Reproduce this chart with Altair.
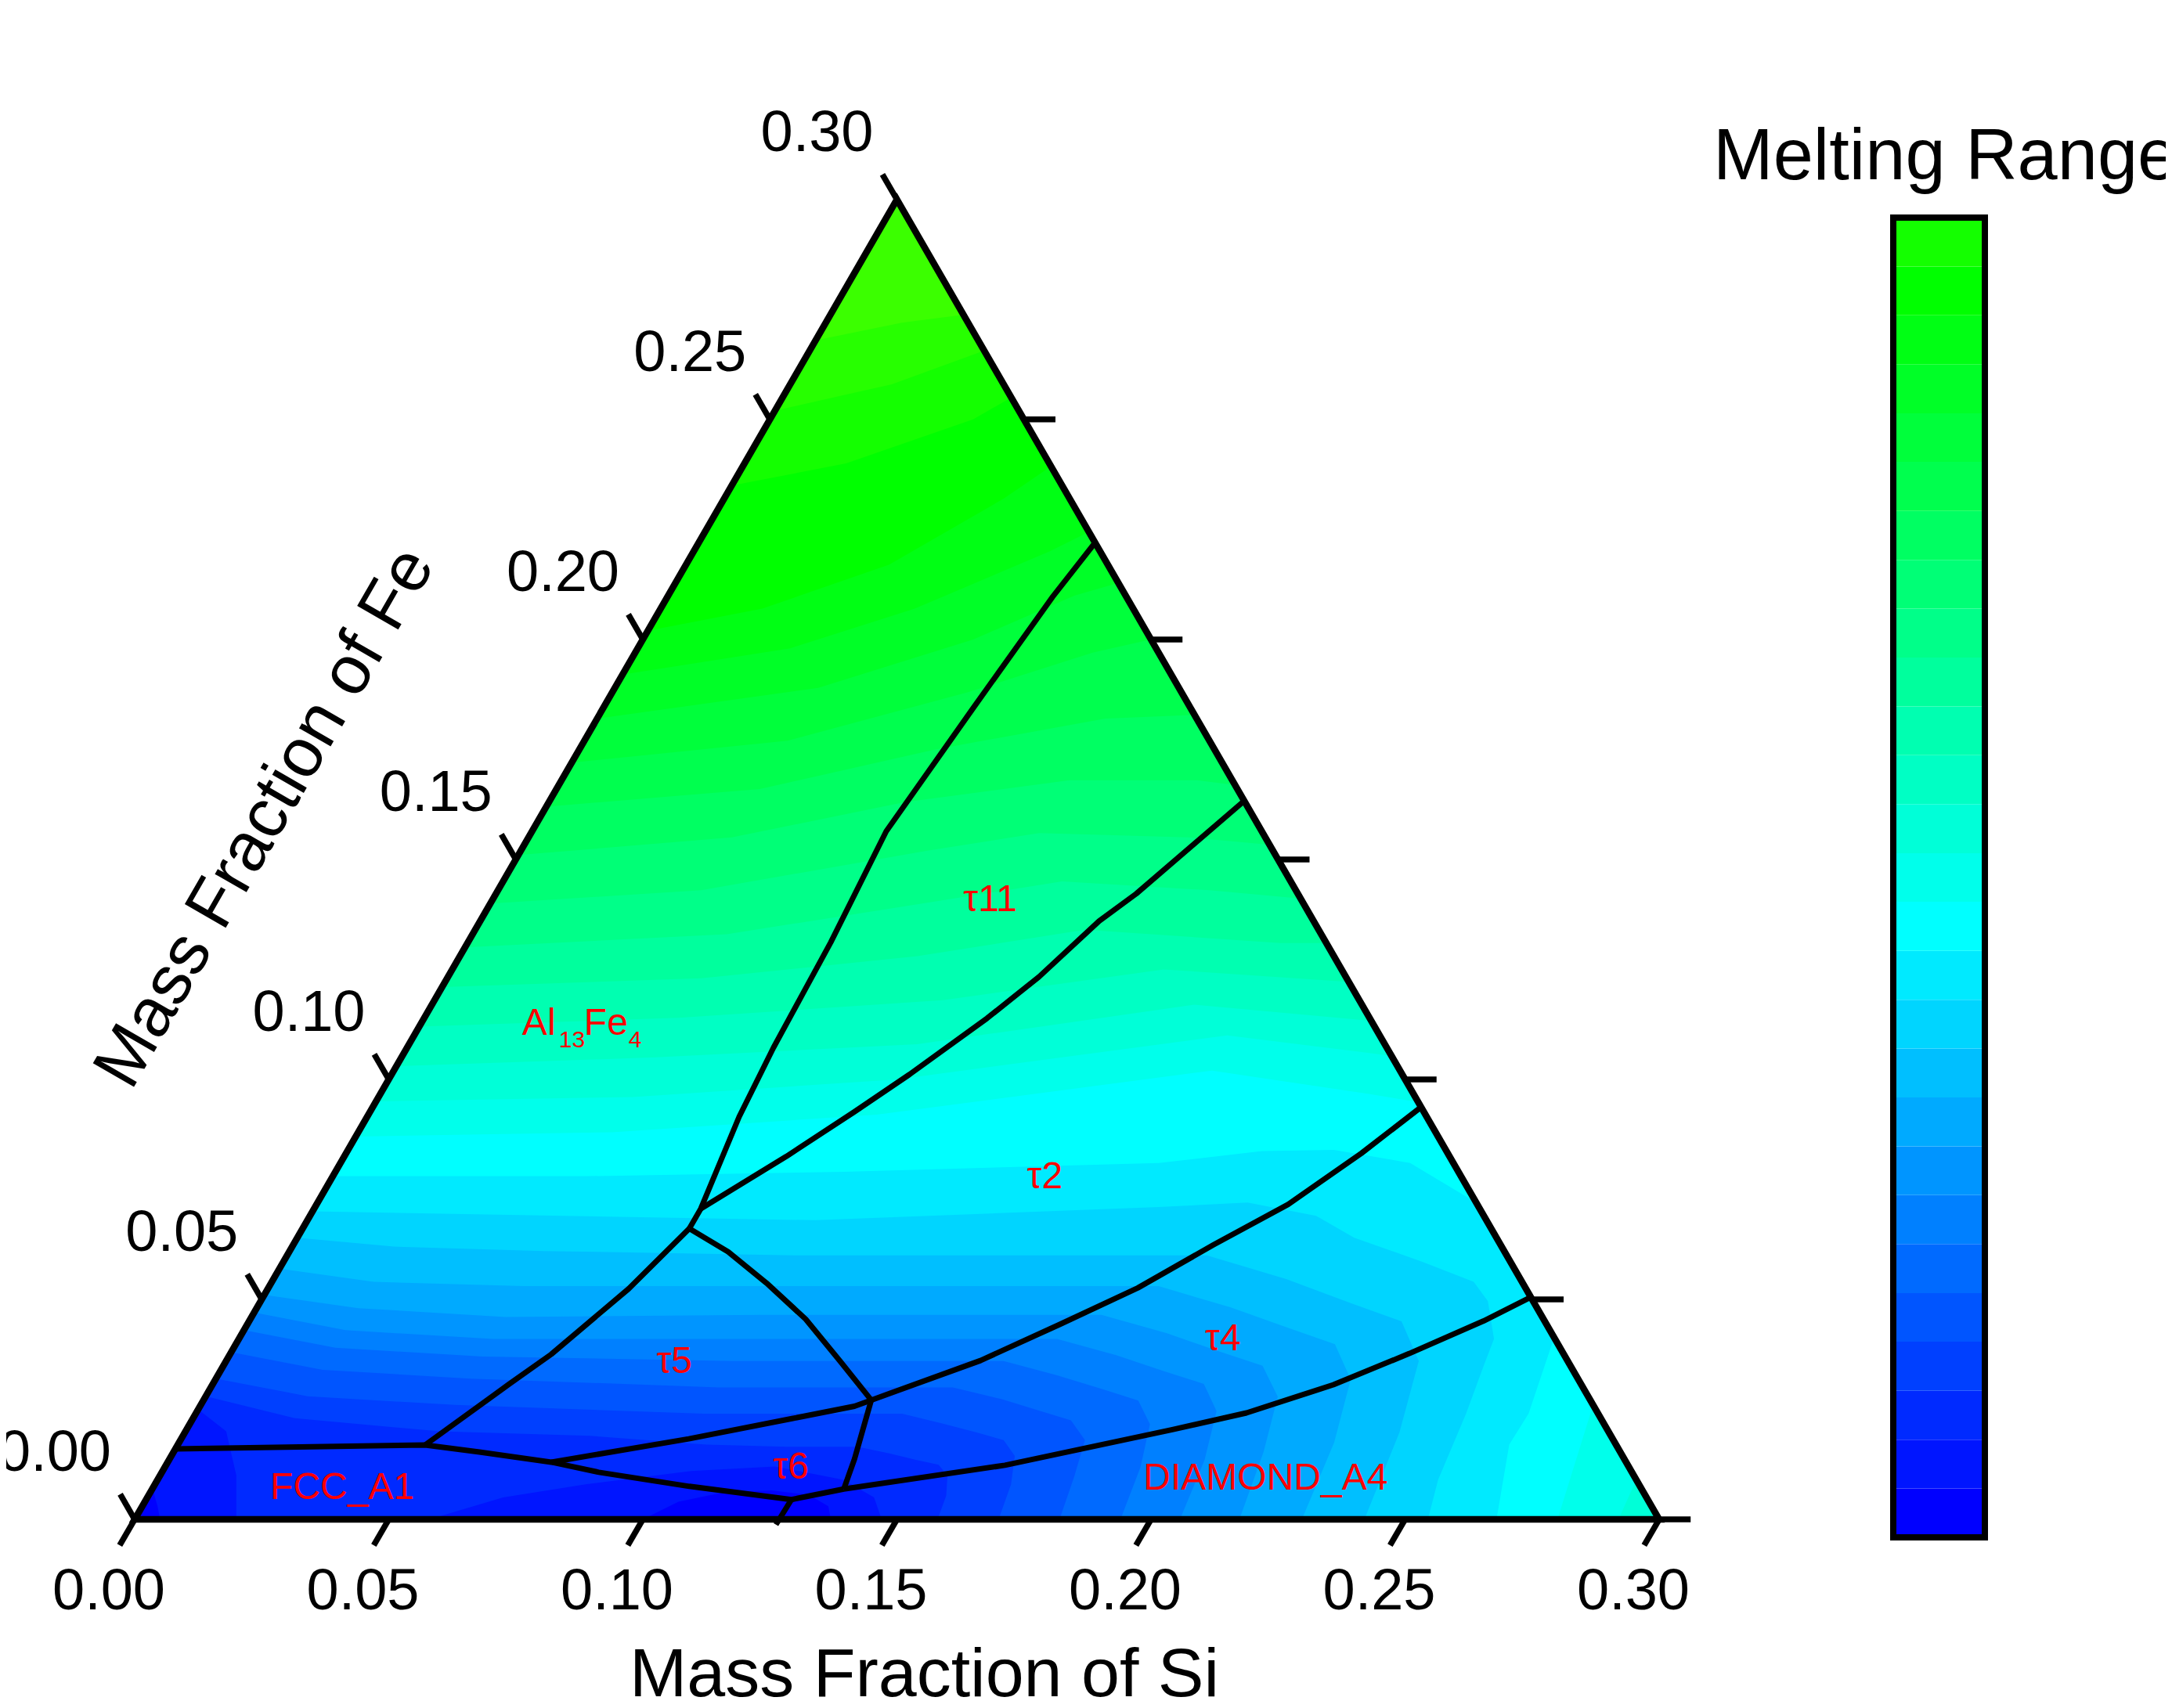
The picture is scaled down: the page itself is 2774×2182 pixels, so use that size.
import altair as alt
import pandas as pd

alt.data_transformers.disable_max_rows()

FONT = "Liberation Sans"

# pixel layout of the ternary triangle (Al corner, mass fractions)
PX = 6490.0            # pixels per unit of mass fraction
ORIGIN_X, ORIGIN_Y = 164.0, 1933.0
W, H = 2758, 2166
X_DOMAIN = [-ORIGIN_X / PX, (W - ORIGIN_X) / PX]
Y_DOMAIN = [(ORIGIN_Y - H) / PX, ORIGIN_Y / PX]

# contour levels of the melting range, one colour band each
LEVELS = [0.0, 16.7, 33.3, 50.0, 66.7, 83.3, 100.0, 116.7, 133.3, 150.0,
          166.7, 183.3, 200.0, 216.7, 233.3, 250.0, 266.7, 283.3, 300.0,
          316.7, 333.3, 350.0, 366.7, 383.3, 400.0, 416.7, 433.3, 450.0, 466.7]
COLOR_STOPS = [0, 200, 416.7, 633.3]
COLOR_RANGE = ["#0000ff", "#00ffff", "#00ff00", "#ffff00"]

# contour lines (Si, Fe); region above/right is >= level
C1 = [(-0.02, 0.008), (0.0, 0.007), (0.003, 0.003), (0.005, 0.0), (0.005, -0.01), (0.10, -0.01),
      (0.10, 0.0), (0.105, 0.004), (0.113, 0.0062), (0.122, 0.0066), (0.13, 0.0055), (0.135, 0.003),
      (0.137, 0.0), (0.137, -0.01)]
C2 = [(-0.02, 0.026), (0.0, 0.025), (0.008, 0.02), (0.015, 0.01), (0.02, 0.0), (0.02, -0.01),
      (0.058, -0.01), (0.058, 0.0), (0.07, 0.005), (0.085, 0.008), (0.104, 0.011), (0.12, 0.012),
      (0.135, 0.009), (0.143, 0.005), (0.147, 0.0), (0.147, -0.01)]
C3 = [(-0.02, 0.028), (0.0, 0.028), (0.02, 0.023), (0.05, 0.020), (0.08, 0.019), (0.104, 0.017),
      (0.12, 0.0165), (0.134, 0.0165), (0.141, 0.015), (0.147, 0.0135), (0.152, 0.0124),
      (0.155, 0.0099), (0.157, 0.0054), (0.158, 0.0), (0.158, -0.01)]
C4 = [(-0.02, 0.032), (0.0, 0.032), (0.02, 0.028), (0.05, 0.026), (0.10, 0.024), (0.139, 0.024),
      (0.148, 0.0218), (0.156, 0.0197), (0.162, 0.018), (0.166, 0.0144), (0.1685, 0.0079),
      (0.170, 0.0), (0.170, -0.01)]
C5 = [(-0.02, 0.038), (0.0, 0.038), (0.02, 0.034), (0.05, 0.032), (0.10, 0.030), (0.146, 0.030),
      (0.157, 0.0273), (0.166, 0.0246), (0.173, 0.0225), (0.178, 0.018), (0.180, 0.0099),
      (0.182, 0.0), (0.182, -0.01)]
C6 = [(-0.02, 0.043), (0.0, 0.043), (0.02, 0.039), (0.05, 0.037), (0.10, 0.036), (0.153, 0.036),
      (0.165, 0.0328), (0.176, 0.0295), (0.184, 0.027), (0.189, 0.0216), (0.192, 0.0119),
      (0.194, 0.0), (0.194, -0.01)]
C7 = [(-0.02, 0.047), (0.0, 0.047), (0.02, 0.043), (0.05, 0.041), (0.10, 0.041), (0.161, 0.041),
      (0.1745, 0.0373), (0.186, 0.0336), (0.195, 0.0308), (0.2006, 0.0246), (0.2038, 0.0135),
      (0.2057, 0.0), (0.2057, -0.01)]
C8 = [(-0.02, 0.051), (0.0, 0.051), (0.02, 0.048), (0.05, 0.046), (0.10, 0.0465), (0.167, 0.0465),
      (0.182, 0.0423), (0.1945, 0.0381), (0.2045, 0.0349), (0.211, 0.0279), (0.2145, 0.0153),
      (0.2174, 0.0), (0.2174, -0.01)]
C9 = [(-0.02, 0.057), (0.0, 0.057), (0.02, 0.054), (0.05, 0.053), (0.10, 0.053), (0.175, 0.053),
      (0.1915, 0.0482), (0.2053, 0.0435), (0.2163, 0.0398), (0.2234, 0.0318), (0.2273, 0.0175),
      (0.2297, 0.0), (0.2297, -0.01)]
C10 = [(-0.02, 0.064), (0.0, 0.064), (0.02, 0.062), (0.05, 0.061), (0.10, 0.060), (0.181, 0.060),
       (0.1993, 0.0546), (0.2146, 0.0492), (0.2268, 0.045), (0.2347, 0.036), (0.239, 0.0198),
       (0.242, 0.0), (0.242, -0.01)]
C11 = [(-0.02, 0.070), (0.0, 0.070), (0.05, 0.069), (0.10, 0.068), (0.166, 0.071), (0.183, 0.072),
       (0.198, 0.069), (0.208, 0.064), (0.224, 0.0586), (0.2365, 0.054), (0.2415, 0.0496),
       (0.247, 0.041), (0.248, 0.035), (0.25, 0.024), (0.252, 0.009), (0.2545, 0.0), (0.2545, -0.01)]
C12 = [(-0.02, 0.078), (0.0, 0.078), (0.05, 0.078), (0.10, 0.079), (0.161, 0.081), (0.18, 0.0837),
       (0.194, 0.084), (0.2105, 0.081), (0.228, 0.072), (0.25, 0.072)]
C13 = [(-0.02, 0.087), (0.0, 0.087), (0.05, 0.088), (0.10, 0.092), (0.161, 0.102), (0.1945, 0.0967),
       (0.21, 0.094), (0.23, 0.094)]
C14 = [(-0.02, 0.095), (0.0, 0.095), (0.05, 0.096), (0.10, 0.100), (0.16, 0.110), (0.19, 0.106),
       (0.21, 0.103), (0.23, 0.103)]
C15 = [(-0.02, 0.103), (0.0, 0.103), (0.05, 0.105), (0.10, 0.108), (0.15, 0.117), (0.19, 0.113),
       (0.21, 0.113)]
C16 = [(-0.02, 0.112), (0.0, 0.112), (0.05, 0.114), (0.10, 0.118), (0.14, 0.125), (0.18, 0.122),
       (0.20, 0.122)]
C17 = [(-0.02, 0.121), (0.0, 0.121), (0.05, 0.123), (0.09, 0.128), (0.12, 0.134), (0.16, 0.131),
       (0.19, 0.131)]
C18 = [(-0.02, 0.130), (0.0, 0.130), (0.05, 0.133), (0.085, 0.140), (0.11, 0.145), (0.14, 0.143),
       (0.16, 0.141), (0.18, 0.141)]
C19 = [(-0.02, 0.140), (0.0, 0.140), (0.04, 0.143), (0.08, 0.152), (0.10, 0.156), (0.13, 0.155),
       (0.15, 0.153), (0.17, 0.153)]
C20 = [(-0.02, 0.151), (0.0, 0.151), (0.04, 0.155), (0.07, 0.163), (0.10, 0.168), (0.125, 0.168),
       (0.14, 0.166), (0.16, 0.166)]
C21 = [(-0.02, 0.162), (0.0, 0.162), (0.04, 0.166), (0.07, 0.175), (0.10, 0.182), (0.12, 0.183),
       (0.14, 0.183)]
C22 = [(-0.02, 0.172), (0.0, 0.172), (0.04, 0.177), (0.07, 0.188), (0.09, 0.197), (0.11, 0.203),
       (0.13, 0.203)]
C23 = [(-0.02, 0.182), (0.0, 0.182), (0.04, 0.189), (0.065, 0.200), (0.08, 0.210), (0.10, 0.218),
       (0.12, 0.218)]
C24 = [(-0.02, 0.192), (0.0, 0.192), (0.03, 0.198), (0.05, 0.207), (0.07, 0.220), (0.085, 0.232),
       (0.10, 0.232)]
C25 = [(-0.02, 0.202), (0.0, 0.202), (0.02, 0.207), (0.04, 0.217), (0.055, 0.232), (0.065, 0.245),
       (0.08, 0.245)]
C26 = [(-0.02, 0.235), (0.0, 0.235), (0.02, 0.24), (0.04, 0.25), (0.05, 0.26), (0.07, 0.26)]
C27 = [(-0.02, 0.252), (0.0, 0.252), (0.02, 0.258), (0.035, 0.266), (0.05, 0.266)]
C28 = [(-0.02, 0.268), (0.0, 0.268), (0.015, 0.272), (0.04, 0.276)]
CONTOURS = [C1, C2, C3, C4, C5, C6, C7, C8, C9, C10, C11, C12, C13, C14, C15, C16, C17, C18,
            C19, C20, C21, C22, C23, C24, C25, C26, C27, C28]

# separate pockets in the Si-rich corner (levels 200, 216.7, 233.3)
CORNERS = {
    12: [(0.268, -0.01), (0.268, 0.0), (0.262, 0.017), (0.2623, 0.024), (0.2588, 0.0407), (0.29, 0.041)],
    13: [(0.280, -0.01), (0.280, 0.0), (0.277, 0.013), (0.274, 0.026), (0.30, 0.026)],
    14: [(0.292, -0.01), (0.292, 0.0), (0.291, 0.009), (0.31, 0.009)],
}

# closing corners outside the triangle (hidden by the white mask)
FL_B, FR_B, FR_T, FL_T = (-0.05, -0.03), (0.40, -0.03), (0.26, 0.32), (-0.25, 0.32)

# phase boundaries (Si, Fe)
LINE_FCC = [(0.0, 0.016), (0.0487, 0.0169), (0.0602, 0.0153), (0.0755, 0.0130), (0.0860, 0.0107),
            (0.1054, 0.0075), (0.1270, 0.0045), (0.1268, -0.0012)]
LINE_T6_BASE = [(0.1270, 0.0045), (0.1361, 0.0069)]
LINE_DIAMOND = [(0.1361, 0.0069), (0.1651, 0.0123), (0.1940, 0.0204), (0.2067, 0.0242),
                (0.2206, 0.0306), (0.2320, 0.0377), (0.2429, 0.0451), (0.2495, 0.0505)]
LINE_T4_TOP = [(0.0755, 0.0130), (0.0999, 0.0183), (0.1179, 0.0229), (0.1288, 0.0257),
               (0.1314, 0.0271), (0.1484, 0.0361), (0.1600, 0.0444), (0.1711, 0.0526),
               (0.1811, 0.0624), (0.1912, 0.0716), (0.1998, 0.0832), (0.2063, 0.0937)]
LINE_T5_LEFT = [(0.0487, 0.0169), (0.0583, 0.0307), (0.0632, 0.0375), (0.0710, 0.0524), (0.0761, 0.0661)]
LINE_T5_RIGHT = [(0.0761, 0.0661), (0.0864, 0.0608), (0.0975, 0.0537), (0.1093, 0.0455),
                 (0.1208, 0.0360), (0.1314, 0.0271)]
LINE_T6_RIGHT = [(0.1314, 0.0271), (0.1348, 0.0137), (0.1361, 0.0069)]
LINE_T11_LEFT = [(0.0761, 0.0661), (0.0761, 0.0706), (0.0732, 0.0915), (0.0721, 0.1072),
                 (0.0714, 0.1312), (0.0697, 0.1564), (0.0728, 0.1843), (0.0758, 0.2097), (0.0780, 0.2220)]
LINE_T11_RIGHT = [(0.0761, 0.0706), (0.0870, 0.0825), (0.0953, 0.0926), (0.1019, 0.1011),
                  (0.1108, 0.1139), (0.1163, 0.1233), (0.1218, 0.1360), (0.1260, 0.1422), (0.1367, 0.1633)]
LINES = [LINE_FCC, LINE_T6_BASE, LINE_DIAMOND, LINE_T4_TOP, LINE_T5_LEFT, LINE_T5_RIGHT,
         LINE_T6_RIGHT, LINE_T11_LEFT, LINE_T11_RIGHT]

TRIANGLE = [(0.0, 0.0), (0.30, 0.0), (0.0, 0.30), (0.0, 0.0), (0.30, 0.0)]
MASK = [(-0.0232, 0.3464), (-0.2732, 0.3464), (-0.0711, -0.0577), (0.4789, -0.0577), (0.2768, 0.3464),
        (-0.0232, 0.3464), (0.0, 0.30), (0.30, 0.0), (0.0, 0.0), (0.0, 0.30)]

# axes
SI_TICKS = [0.0, 0.05, 0.10, 0.15, 0.20, 0.25, 0.30]
FE_TICKS = [0.0, 0.05, 0.10, 0.15, 0.20, 0.25, 0.30]
RIGHT_TICKS = [0.0, 0.05, 0.10, 0.15, 0.20, 0.25]
TICK_TEXT = ["0.00", "0.05", "0.10", "0.15", "0.20", "0.25", "0.30"]

# phase labels
PHASES = ["τ11", "τ2", "τ4", "τ5", "τ6", "FCC_A1", "DIAMOND_A4"]
PHASE_SI = [0.0980, 0.1402, 0.1937, 0.0883, 0.1233, 0.0373, 0.2179]
PHASE_FE = [0.1407, 0.0778, 0.0409, 0.0358, 0.0117, 0.0071, 0.0093]
AL13FE4_AT = (0.0212, 0.1101)

# colour bar
CB_TICKS = [0, 100, 200, 300, 400]
CB_MAX = 450.0

# ---------------------------------------------------------------- data frames
polys = [(LEVELS[0], [FL_B, FR_B, FR_T, FL_T])]
for k, c in enumerate(CONTOURS, start=1):
    pts = list(c)
    if pts[-1][1] < 0:
        pts.append(FR_B)
    polys.append((LEVELS[k], pts + [FR_T, FL_T]))
    if k in CORNERS:
        polys.append((LEVELS[k], CORNERS[k] + [FR_B]))

poly_df = pd.DataFrame([
    {"poly": p, "level": lev, "ord": i, "si": si, "fe": fe}
    for p, (lev, pts) in enumerate(polys) for i, (si, fe) in enumerate(pts)
])
line_df = pd.DataFrame([
    {"line": n, "ord": i, "si": si, "fe": fe}
    for n, pts in enumerate(LINES) for i, (si, fe) in enumerate(pts)
])
tri_df = pd.DataFrame([{"ord": i, "si": si, "fe": fe} for i, (si, fe) in enumerate(TRIANGLE)])
mask_df = pd.DataFrame([{"ord": i, "si": si, "fe": fe} for i, (si, fe) in enumerate(MASK)])

tick_rows = []
for s in SI_TICKS:
    tick_rows.append({"si": s, "fe": 0.0, "si2": s, "fe2": -0.0059})
for f in FE_TICKS:
    tick_rows.append({"si": 0.0, "fe": f, "si2": -0.0057, "fe2": f + 0.0057})
for f in RIGHT_TICKS:
    tick_rows.append({"si": 0.30 - f, "fe": f, "si2": 0.30 - f + 0.0062, "fe2": f})
tick_df = pd.DataFrame(tick_rows)
bottom_lab = pd.DataFrame({"si": SI_TICKS, "fe": 0.0, "t": TICK_TEXT})
left_lab = pd.DataFrame({"si": 0.0, "fe": FE_TICKS, "t": TICK_TEXT})
phase_df = pd.DataFrame({"t": PHASES, "si": PHASE_SI, "fe": PHASE_FE})

band_df = pd.DataFrame({"lo": LEVELS[:27], "hi": LEVELS[1:28]})

# ---------------------------------------------------------------- encodings
X = alt.X("cx:Q", scale=alt.Scale(domain=X_DOMAIN, nice=False, zero=False), axis=None)
Y = alt.Y("cy:Q", scale=alt.Scale(domain=Y_DOMAIN, nice=False, zero=False), axis=None)
color_scale = alt.Scale(domain=COLOR_STOPS, range=COLOR_RANGE, interpolate="rgb")


def tern(df):
    return alt.Chart(df).transform_calculate(
        cx="datum.si + datum.fe / 2", cy="datum.fe * 0.8660254"
    )


poly_base = tern(poly_df).mark_line(strokeWidth=0).encode(
    x=X, y=Y, order="ord:Q",
    fill=alt.Fill("level:Q", scale=color_scale, legend=None),
)
poly_layers = [poly_base.transform_filter(alt.datum.poly == p) for p in range(len(polys))]

mask = tern(mask_df).mark_line(strokeWidth=0).encode(
    x=X, y=Y, order="ord:Q", fill=alt.value("white")
)

phase_lines = tern(line_df).mark_line(color="black", strokeWidth=7, strokeJoin="round").encode(
    x=X, y=Y, order="ord:Q", detail="line:N"
)
triangle = tern(tri_df).mark_line(color="black", strokeWidth=8.5, strokeJoin="miter").encode(
    x=X, y=Y, order="ord:Q"
)
ticks = (
    alt.Chart(tick_df)
    .transform_calculate(
        cx="datum.si + datum.fe / 2", cy="datum.fe * 0.8660254",
        cx2="datum.si2 + datum.fe2 / 2", cy2="datum.fe2 * 0.8660254",
    )
    .mark_rule(color="black", strokeWidth=7.5)
    .encode(x=X, y=Y, x2="cx2:Q", y2="cy2:Q")
)
bottom_text = tern(bottom_lab).mark_text(
    font=FONT, fontSize=74, color="black", align="center", baseline="middle", dx=-33, dy=93
).encode(x=X, y=Y, text="t:N")
left_text = tern(left_lab).mark_text(
    font=FONT, fontSize=74, color="black", align="center", baseline="middle", dx=-102, dy=-84
).encode(x=X, y=Y, text="t:N")

si_title = tern(pd.DataFrame({"si": [0.15], "fe": [0.0], "t": ["Mass Fraction of Si"]})).mark_text(
    font=FONT, fontSize=88, color="black", align="center", baseline="alphabetic", dx=35, dy=226
).encode(x=X, y=Y, text="t:N")
fe_title = tern(pd.DataFrame({"si": [0.0], "fe": [0.15], "t": ["Mass Fraction of Fe"]})).mark_text(
    font=FONT, fontSize=88, color="black", align="center", baseline="middle", angle=300,
    dx=-114, dy=-303
).encode(x=X, y=Y, text="t:N")

phase_text = tern(phase_df).mark_text(
    font=FONT, fontSize=48, color="#ff0000", align="center", baseline="middle"
).encode(x=X, y=Y, text="t:N")

al_df = pd.DataFrame({"si": [AL13FE4_AT[0]], "fe": [AL13FE4_AT[1]]})
al_parts = []
for txt, size, dx, dy in [("Al", 48, 0, 0), ("13", 30, 47, 16), ("Fe", 48, 79, 0), ("4", 30, 136, 16)]:
    al_parts.append(
        tern(al_df).mark_text(
            font=FONT, fontSize=size, color="#ff0000", align="left", baseline="alphabetic",
            dx=dx, dy=dy, text=txt
        ).encode(x=X, y=Y)
    )

tern_layer = alt.layer(
    *poly_layers, mask, phase_lines, triangle, ticks, bottom_text, left_text,
    si_title, fe_title, phase_text, *al_parts
)

# ---------------------------------------------------------------- colour bar
cb_scale = alt.Scale(domain=[0, CB_MAX], range=[1956, 270], nice=False, zero=False)
cb_axis = alt.Axis(
    orient="right", offset=-228, values=CB_TICKS,
    labelExpr="datum.value == 0 ? '0.000' : format(datum.value, '.1f')",
    domain=False, grid=False, tickSize=32, tickWidth=6, tickColor="black",
    labelFont=FONT, labelFontSize=57, labelColor="black", labelPadding=18, title=None,
)
bands = alt.Chart(band_df).mark_rect().encode(
    x=alt.value(2410), x2=alt.value(2527),
    y=alt.Y("lo:Q", scale=cb_scale, axis=cb_axis), y2="hi:Q",
    fill=alt.Fill("lo:Q", scale=color_scale, legend=None),
)
frame = alt.Chart(pd.DataFrame({"lo": [0.0], "hi": [CB_MAX]})).mark_rect(
    fillOpacity=0, stroke="black", strokeWidth=8
).encode(
    x=alt.value(2410), x2=alt.value(2527),
    y=alt.Y("lo:Q", scale=cb_scale, axis=None), y2="hi:Q",
)
cb_title = alt.Chart(pd.DataFrame({"v": [CB_MAX], "t": ["Melting Range"]})).mark_text(
    font=FONT, fontSize=92, color="black", align="left", baseline="alphabetic", dy=-49
).encode(
    x=alt.value(2180), y=alt.Y("v:Q", scale=cb_scale, axis=None), text="t:N"
)
cbar_layer = alt.layer(bands, frame, cb_title)

chart = (
    alt.layer(tern_layer, cbar_layer)
    .resolve_scale(y="independent")
    .properties(width=W, height=H, autosize=alt.AutoSizeParams(type="none"), padding=0)
    .configure(background="white")
    .configure_view(stroke=None)
)

chart.save("out.html", embed_options={"renderer": "svg", "actions": False})
